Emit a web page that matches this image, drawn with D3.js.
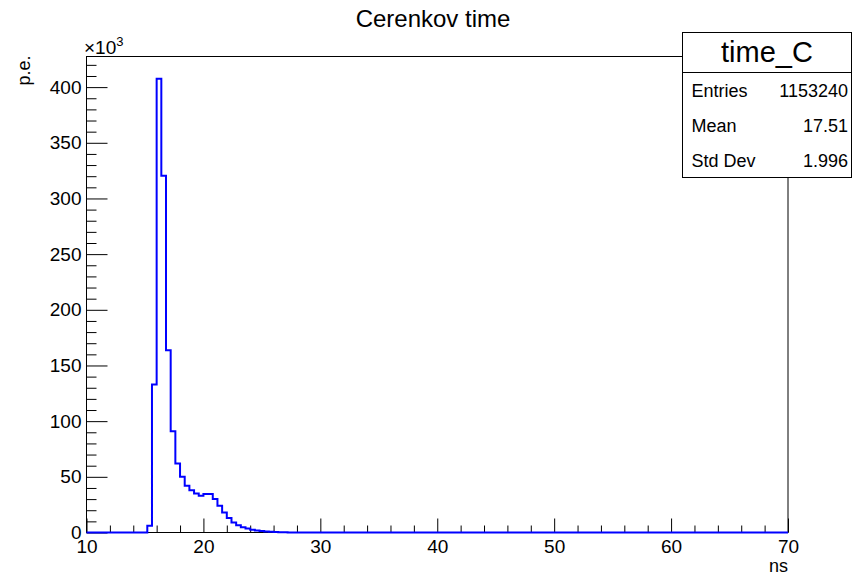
<!DOCTYPE html>
<html>
<head>
<meta charset="utf-8">
<script src="https://cdn.jsdelivr.net/npm/d3@7"></script>
<style>
  body { margin: 0; background: #fff; }
  svg { display: block; font-family: "Liberation Sans", Arial, Helvetica, sans-serif; }
</style>
</head>
<body>
<svg id="chart" width="853" height="576"></svg>
<script>
// === Data: histogram time_C, 150 bins of 0.4 ns from 10 to 70 ns ===
const binStart = 10;
const binWidth = 0.4;
const counts = [
  0, 0, 0, 0, 0, 0, 0, 0, 0, 0, 0, 0, 0,
  6000, 133000, 407500, 320500, 163600, 91000, 62000, 50000, 42000, 38000,
  35000, 33000, 34500, 34500, 30000, 24000, 18000, 13000, 9000, 6500,
  4800, 3500, 2500, 1800, 1300, 900, 600, 400, 300, 200,
  0, 0, 0, 0, 0, 0, 0, 0, 0, 0, 0, 0, 0, 0, 0, 0, 0, 0, 0, 0,
  0, 0, 0, 0, 0, 0, 0, 0, 0, 0, 0, 0, 0, 0, 0, 0, 0, 0, 0, 0,
  0, 0, 0, 0, 0, 0, 0, 0, 0, 0, 0, 0, 0, 0, 0, 0, 0, 0, 0, 0,
  0, 0, 0, 0, 0, 0, 0, 0, 0, 0, 0, 0, 0, 0, 0, 0, 0, 0, 0, 0,
  0, 0, 0, 0, 0, 0, 0, 0, 0, 0, 0, 0, 0, 0, 0, 0, 0, 0, 0, 0,
  0, 0, 0, 0, 0, 0, 0
];
const xMajorTicks = [10, 20, 30, 40, 50, 60, 70];
const xMinorTicks = [12, 14, 16, 18, 22, 24, 26, 28, 32, 34, 36, 38, 42, 44, 46, 48, 52, 54, 56, 58, 62, 64, 66, 68];
const yMajorTicks = [0, 50000, 100000, 150000, 200000, 250000, 300000, 350000, 400000];
const yMinorTicks = [10000, 20000, 30000, 40000, 60000, 70000, 80000, 90000, 110000, 120000, 130000, 140000,
  160000, 170000, 180000, 190000, 210000, 220000, 230000, 240000, 260000, 270000, 280000, 290000,
  310000, 320000, 330000, 340000, 360000, 370000, 380000, 390000, 410000, 420000];
const statsRows = [
  { label: "Entries", value: "1153240" },
  { label: "Mean", value: "17.51" },
  { label: "Std Dev", value: "1.996" }
];

const svg = d3.select("#chart");
const frame = { left: 86.5, right: 788, top: 56.5, bottom: 532.5 };

const x = d3.scaleLinear().domain([10, 70]).range([frame.left, frame.right]);
const y = d3.scaleLinear().domain([0, 427500]).range([frame.bottom, frame.top]);

// === Histogram line ===
const points = counts.map((c, i) => [binStart + i * binWidth, c]);
points.push([binStart + counts.length * binWidth, counts[counts.length - 1]]);

const histLine = d3.line()
  .x(d => x(d[0]))
  .y(d => y(d[1]))
  .curve(d3.curveStepAfter);

// === Frame ===
svg.append("rect")
  .attr("x", frame.left)
  .attr("y", frame.top)
  .attr("width", frame.right - frame.left)
  .attr("height", frame.bottom - frame.top)
  .attr("fill", "none")
  .attr("stroke", "#000")
  .attr("stroke-width", 1);

// === Axes (ticks drawn inside the frame) ===
const yMajor = svg.append("g")
  .attr("transform", `translate(${frame.left},0)`)
  .call(d3.axisLeft(y).tickValues(yMajorTicks).tickSize(-21).tickSizeOuter(0).tickPadding(5)
    .tickFormat(d => d / 1000));
const yMinor = svg.append("g")
  .attr("transform", `translate(${frame.left},0)`)
  .call(d3.axisLeft(y).tickValues(yMinorTicks).tickSize(-10).tickSizeOuter(0).tickFormat(""));

const xMajor = svg.append("g")
  .attr("transform", `translate(0,${frame.bottom})`)
  .call(d3.axisBottom(x).tickValues(xMajorTicks).tickSize(-14).tickSizeOuter(0).tickPadding(7));
const xMinor = svg.append("g")
  .attr("transform", `translate(0,${frame.bottom})`)
  .call(d3.axisBottom(x).tickValues(xMinorTicks).tickSize(-7).tickSizeOuter(0).tickFormat(""));

svg.selectAll(".domain").remove();
svg.selectAll(".tick line").attr("stroke", "#000").attr("stroke-width", 1);
svg.selectAll(".tick text")
  .attr("font-size", "19px")
  .attr("font-family", "'Liberation Sans', Arial, Helvetica, sans-serif")
  .attr("fill", "#000");

svg.append("path")
  .datum(points)
  .attr("d", histLine)
  .attr("fill", "none")
  .attr("stroke", "#0000ff")
  .attr("stroke-width", 2);

// === Titles ===
svg.append("text")
  .attr("x", 433)
  .attr("y", 27)
  .attr("text-anchor", "middle")
  .attr("font-size", "24px")
  .text("Cerenkov time");

svg.append("text")
  .attr("x", frame.right)
  .attr("y", 572)
  .attr("text-anchor", "end")
  .attr("font-size", "18px")
  .text("ns");

svg.append("text")
  .attr("transform", `translate(30,${frame.top - 1}) rotate(-90)`)
  .attr("text-anchor", "end")
  .attr("font-size", "18px")
  .text("p.e.");

const expo = svg.append("text")
  .attr("x", 84)
  .attr("y", 54)
  .attr("font-size", "19px");
expo.append("tspan").text("\u00d710");
expo.append("tspan").attr("font-size", "13px").attr("dy", -8).text("3");

// === Stats box ===
const box = { x: 682.5, y: 32.5, w: 169, h: 145, sep: 72.5 };
const stats = svg.append("g");
stats.append("rect")
  .attr("x", box.x).attr("y", box.y)
  .attr("width", box.w).attr("height", box.h)
  .attr("fill", "#fff").attr("stroke", "#000").attr("stroke-width", 1);
stats.append("line")
  .attr("x1", box.x).attr("x2", box.x + box.w)
  .attr("y1", box.sep).attr("y2", box.sep)
  .attr("stroke", "#000");
stats.append("text")
  .attr("x", box.x + box.w / 2)
  .attr("y", 62)
  .attr("text-anchor", "middle")
  .attr("font-size", "29px")
  .text("time_C");

statsRows.forEach((r, i) => {
  stats.append("text")
    .attr("x", 691.5)
    .attr("y", 97 + i * 35)
    .attr("font-size", "18px")
    .text(r.label);
  stats.append("text")
    .attr("x", 848)
    .attr("y", 97 + i * 35)
    .attr("text-anchor", "end")
    .attr("font-size", "18px")
    .text(r.value);
});
</script>
</body>
</html>
